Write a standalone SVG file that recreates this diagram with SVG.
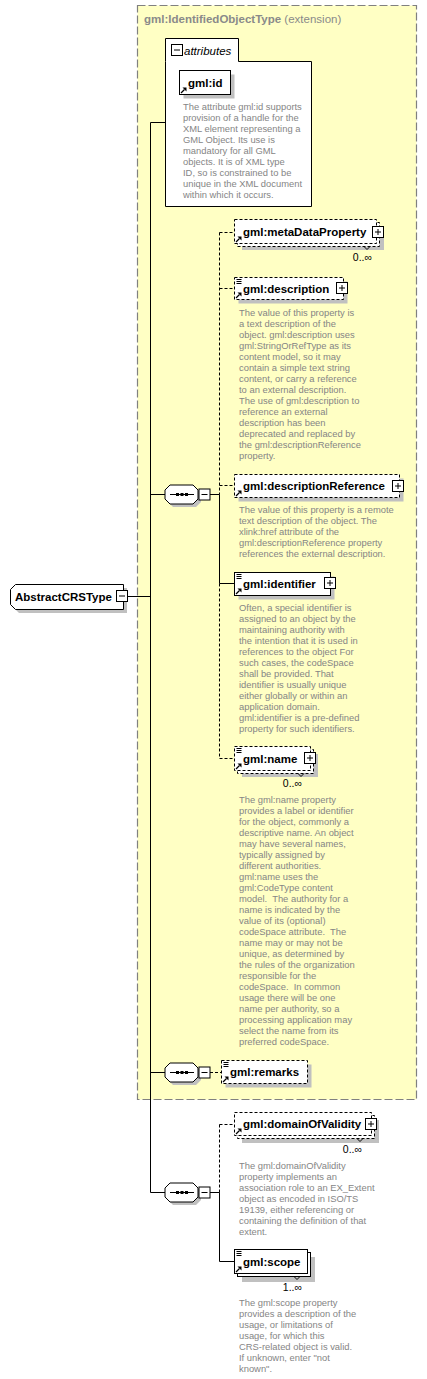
<svg xmlns="http://www.w3.org/2000/svg" xmlns:xlink="http://www.w3.org/1999/xlink" width="427" height="1379" viewBox="0 0 427 1379">
<style>
.nm{font-family:"Liberation Sans",Arial,sans-serif;font-size:11.5px;font-weight:bold;fill:#000}
.ds{font-family:"Liberation Sans",Arial,sans-serif;font-size:9.4px;fill:#858585}
.mu{font-family:"Liberation Sans",Arial,sans-serif;font-size:10.5px;fill:#000}
.tt{font-family:"Liberation Sans",Arial,sans-serif;font-size:11.5px;fill:#8a8a8a}
.bx{fill:#fff;stroke:#000;stroke-width:1}
.bxd{fill:#fff;stroke:#000;stroke-width:1;stroke-dasharray:3,2}
.sh{fill:#c0c0c0;stroke:none}
.ln{fill:none;stroke:#000;stroke-width:1}
.lnd{fill:none;stroke:#000;stroke-width:1;stroke-dasharray:3,2}
.ic{fill:none;stroke:#000;stroke-width:1}
</style>
<defs>
<g id="arr"><path d="M1.5,-1.5 L5,-5" stroke="#000" stroke-width="1.3" fill="none"/><polygon points="3,-7 7,-7 7,-3" fill="#000"/></g>
<g id="lines"><path d="M2,2 H7 M2,4 H7 M2,6 H7" stroke="#000" stroke-width="1" fill="none"/></g>
<g id="plus"><rect x="0" y="0" width="11" height="11" fill="#fff" stroke="#000" stroke-width="1"/><path d="M2.5,5.5 H8.5 M5.5,2.5 V8.5" stroke="#000" stroke-width="1"/></g>
<g id="minus"><rect x="0" y="0" width="11" height="11" fill="#fff" stroke="#000" stroke-width="1"/><path d="M2.5,5.5 H8.5" stroke="#000" stroke-width="1"/></g>
<g id="seq">
<path d="M173,-6.5 H196 L201,-1.5 V7.5 L196,12.5 H173 L168,7.5 V-1.5 Z" class="sh"/>
<path d="M170,-9.5 H193 L198,-4.5 V4.5 L193,9.5 H170 L165,4.5 V-4.5 Z" fill="#fff" stroke="#000" stroke-width="1"/>
<path d="M170,0 H194" stroke="#000" stroke-width="1"/>
<rect x="176" y="-1.5" width="3" height="3" fill="#000"/><rect x="180.5" y="-1.5" width="3" height="3" fill="#000"/><rect x="185" y="-1.5" width="3" height="3" fill="#000"/>
<use xlink:href="#minus" x="199" y="-5.5"/>
</g>
</defs>

<g id="extension">
<rect x="137.5" y="5.5" width="279" height="1094" fill="#ffffc4" stroke="#808080" stroke-width="1.2" stroke-dasharray="8,3"/>
<text x="144" y="22.5" class="tt"><tspan font-weight="bold">gml:IdentifiedObjectType</tspan> (extension)</text>
</g>

<g id="connectors">
<path class="ln" d="M127,596.5 H150.5 M150.5,122.5 V1192.5 M150.5,122.5 H165"/>
<path class="ln" d="M150.5,494.5 H165 M210,494.5 H219.5 M219.5,494.5 V583.5 M219.5,583.5 H234"/>
<path class="lnd" d="M219.5,232.5 V494.5 M219.5,583.5 V758.5 M219.5,232.5 H234 M219.5,288.5 H234 M219.5,485.5 H234 M219.5,758.5 H234"/>
<path class="ln" d="M150.5,1072.5 H165"/>
<path class="lnd" d="M210,1072.5 H221"/>
<path class="ln" d="M150.5,1192.5 H165 M210,1192.5 H219.5 M219.5,1192.5 V1261.5 H234"/>
<path class="lnd" d="M219.5,1124.5 V1192.5 M219.5,1124.5 H234"/>
</g>

<g id="AbstractCRSType">
<path d="M19,588 H127 V613 H19 L14,608 V593 Z" class="sh"/>
<path d="M15.5,584.5 H123.5 V609.5 H15.5 L10.5,604.5 V589.5 Z" class="bx"/>
<text x="15" y="600.5" class="nm">AbstractCRSType</text>
<use xlink:href="#minus" x="116.5" y="590.5"/>
</g>

<g id="attributes">
<path d="M165.5,61.5 V38.5 H238.5 V61.5 H311.5 V206.5 H165.5 Z" fill="#fff" stroke="#000" stroke-width="1"/>
<use xlink:href="#minus" x="171.5" y="44.5"/>
<text x="184" y="55" class="nm" style="font-weight:normal;font-style:italic">attributes</text>
</g>

<g id="gml_id">
<rect x="183.5" y="74.5" width="51" height="24" class="sh"/>
<rect x="179.5" y="70.5" width="51" height="24" class="bx"/>
<text x="188" y="86.5" class="nm">gml:id</text>
<use xlink:href="#arr" x="179.5" y="94.5"/>
<text class="ds"><tspan x="183" y="110">The attribute gml:id supports</tspan><tspan x="183" y="121">provision of a handle for the</tspan><tspan x="183" y="132">XML element representing a</tspan><tspan x="183" y="143">GML Object. Its use is</tspan><tspan x="183" y="154">mandatory for all GML</tspan><tspan x="183" y="165">objects. It is of XML type</tspan><tspan x="183" y="176">ID, so is constrained to be</tspan><tspan x="183" y="187">unique in the XML document</tspan><tspan x="183" y="198">within which it occurs.</tspan></text>
</g>

<g id="metaDataProperty">
<rect x="242" y="227" width="142" height="23" class="sh"/>
<rect x="237.5" y="222.5" width="142" height="24" class="bxd"/>
<rect x="234.5" y="219.5" width="142" height="24" class="bxd"/>
<text x="243" y="235.5" class="nm">gml:metaDataProperty</text>
<use xlink:href="#arr" x="234.5" y="243.5"/>
<use xlink:href="#plus" x="372.5" y="226.5"/>
<path class="ic" d="M364,246.5 L367,249.5 L370,246.5"/>
<text x="372" y="261" class="mu" text-anchor="end">0..∞</text>
</g>

<g id="description">
<rect x="238.5" y="281.5" width="109" height="22" class="sh"/>
<rect x="234.5" y="277.5" width="109" height="22" class="bxd"/>
<use xlink:href="#lines" x="234.5" y="277.5"/>
<text x="243" y="292.5" class="nm">gml:description</text>
<use xlink:href="#arr" x="234.5" y="299.5"/>
<use xlink:href="#plus" x="336.5" y="282.5"/>
<text class="ds"><tspan x="239" y="316">The value of this property is</tspan><tspan x="239" y="327">a text description of the</tspan><tspan x="239" y="338">object. gml:description uses</tspan><tspan x="239" y="349">gml:StringOrRefType as its</tspan><tspan x="239" y="360">content model, so it may</tspan><tspan x="239" y="371">contain a simple text string</tspan><tspan x="239" y="382">content, or carry a reference</tspan><tspan x="239" y="393">to an external description.</tspan><tspan x="239" y="404">The use of gml:description to</tspan><tspan x="239" y="415">reference an external</tspan><tspan x="239" y="426">description has been</tspan><tspan x="239" y="437">deprecated and replaced by</tspan><tspan x="239" y="448">the gml:descriptionReference</tspan><tspan x="239" y="459">property.</tspan></text>
</g>

<g id="sequence1">
<use xlink:href="#seq" x="0" y="494.5"/>
</g>

<g id="descriptionReference">
<rect x="238.5" y="478.5" width="165" height="23" class="sh"/>
<rect x="234.5" y="474.5" width="165" height="23" class="bxd"/>
<text x="243" y="490" class="nm">gml:descriptionReference</text>
<use xlink:href="#arr" x="234.5" y="497.5"/>
<use xlink:href="#plus" x="392.5" y="480.5"/>
<text class="ds"><tspan x="239" y="513">The value of this property is a remote</tspan><tspan x="239" y="524">text description of the object. The</tspan><tspan x="239" y="535">xlink:href attribute of the</tspan><tspan x="239" y="546">gml:descriptionReference property</tspan><tspan x="239" y="557">references the external description.</tspan></text>
</g>

<g id="identifier">
<rect x="238.5" y="576.5" width="96" height="23" class="sh"/>
<rect x="234.5" y="572.5" width="96" height="23" class="bx"/>
<use xlink:href="#lines" x="234.5" y="572.5"/>
<text x="243" y="588" class="nm">gml:identifier</text>
<use xlink:href="#arr" x="234.5" y="595.5"/>
<use xlink:href="#plus" x="324.5" y="577.5"/>
<text class="ds"><tspan x="239" y="611">Often, a special identifier is</tspan><tspan x="239" y="622">assigned to an object by the</tspan><tspan x="239" y="633">maintaining authority with</tspan><tspan x="239" y="644">the intention that it is used in</tspan><tspan x="239" y="655">references to the object For</tspan><tspan x="239" y="666">such cases, the codeSpace</tspan><tspan x="239" y="677">shall be provided. That</tspan><tspan x="239" y="688">identifier is usually unique</tspan><tspan x="239" y="699">either globally or within an</tspan><tspan x="239" y="710">application domain.</tspan><tspan x="239" y="721">gml:identifier is a pre-defined</tspan><tspan x="239" y="732">property for such identifiers.</tspan></text>
</g>

<g id="name">
<rect x="242" y="754" width="76" height="23" class="sh"/>
<rect x="237.5" y="749.5" width="76" height="24" class="bxd"/>
<rect x="234.5" y="746.5" width="76" height="24" class="bxd"/>
<use xlink:href="#lines" x="234.5" y="746.5"/>
<text x="243" y="762.5" class="nm">gml:name</text>
<use xlink:href="#arr" x="234.5" y="770.5"/>
<use xlink:href="#plus" x="304.5" y="752.5"/>
<path class="ic" d="M298,773.5 L301,776.5 L304,773.5"/>
<text x="302" y="787" class="mu" text-anchor="end">0..∞</text>
<text class="ds"><tspan x="239" y="803">The gml:name property</tspan><tspan x="239" y="814">provides a label or identifier</tspan><tspan x="239" y="825">for the object, commonly a</tspan><tspan x="239" y="836">descriptive name. An object</tspan><tspan x="239" y="847">may have several names,</tspan><tspan x="239" y="858">typically assigned by</tspan><tspan x="239" y="869">different authorities.</tspan><tspan x="239" y="880">gml:name uses the</tspan><tspan x="239" y="891">gml:CodeType content</tspan><tspan x="239" y="902" xml:space="preserve">model.  The authority for a</tspan><tspan x="239" y="913">name is indicated by the</tspan><tspan x="239" y="924">value of its (optional)</tspan><tspan x="239" y="935" xml:space="preserve">codeSpace attribute.  The</tspan><tspan x="239" y="946">name may or may not be</tspan><tspan x="239" y="957">unique, as determined by</tspan><tspan x="239" y="968">the rules of the organization</tspan><tspan x="239" y="979">responsible for the</tspan><tspan x="239" y="990" xml:space="preserve">codeSpace.  In common</tspan><tspan x="239" y="1001">usage there will be one</tspan><tspan x="239" y="1012">name per authority, so a</tspan><tspan x="239" y="1023">processing application may</tspan><tspan x="239" y="1034">select the name from its</tspan><tspan x="239" y="1045">preferred codeSpace.</tspan></text>
</g>

<g id="sequence2">
<use xlink:href="#seq" x="0" y="1072.5"/>
</g>

<g id="remarks">
<rect x="225.5" y="1064.5" width="86" height="23" class="sh"/>
<rect x="221.5" y="1060.5" width="86" height="23" class="bxd"/>
<use xlink:href="#lines" x="221.5" y="1060.5"/>
<text x="230" y="1076" class="nm">gml:remarks</text>
<use xlink:href="#arr" x="221.5" y="1083.5"/>
</g>

<g id="sequence3">
<use xlink:href="#seq" x="0" y="1192.5"/>
</g>

<g id="domainOfValidity">
<rect x="242" y="1120" width="137" height="23" class="sh"/>
<rect x="237.5" y="1115.5" width="137" height="23" class="bxd"/>
<rect x="234.5" y="1112.5" width="137" height="23" class="bxd"/>
<text x="243" y="1128" class="nm">gml:domainOfValidity</text>
<use xlink:href="#arr" x="234.5" y="1135.5"/>
<use xlink:href="#plus" x="365.5" y="1118.5"/>
<path class="ic" d="M357,1138.5 L360,1141.5 L363,1138.5"/>
<text x="362" y="1153" class="mu" text-anchor="end">0..∞</text>
<text class="ds"><tspan x="239" y="1169">The gml:domainOfValidity</tspan><tspan x="239" y="1180">property implements an</tspan><tspan x="239" y="1191">association role to an EX_Extent</tspan><tspan x="239" y="1202">object as encoded in ISO/TS</tspan><tspan x="239" y="1213">19139, either referencing or</tspan><tspan x="239" y="1224">containing the definition of that</tspan><tspan x="239" y="1235">extent.</tspan></text>
</g>

<g id="scope">
<rect x="242" y="1257" width="73" height="25" class="sh"/>
<rect x="237.5" y="1252.5" width="73" height="24" class="bx"/>
<rect x="234.5" y="1249.5" width="73" height="24" class="bx"/>
<use xlink:href="#lines" x="234.5" y="1249.5"/>
<text x="243" y="1266" class="nm">gml:scope</text>
<use xlink:href="#arr" x="234.5" y="1273.5"/>
<path class="ic" d="M294,1276.5 L297,1279.5 L300,1276.5"/>
<text x="302" y="1291" class="mu" text-anchor="end">1..∞</text>
<text class="ds"><tspan x="239" y="1306">The gml:scope property</tspan><tspan x="239" y="1317">provides a description of the</tspan><tspan x="239" y="1328">usage, or limitations of</tspan><tspan x="239" y="1339">usage, for which this</tspan><tspan x="239" y="1350">CRS-related object is valid.</tspan><tspan x="239" y="1361">If unknown, enter "not</tspan><tspan x="239" y="1372">known".</tspan></text>
</g>
</svg>
